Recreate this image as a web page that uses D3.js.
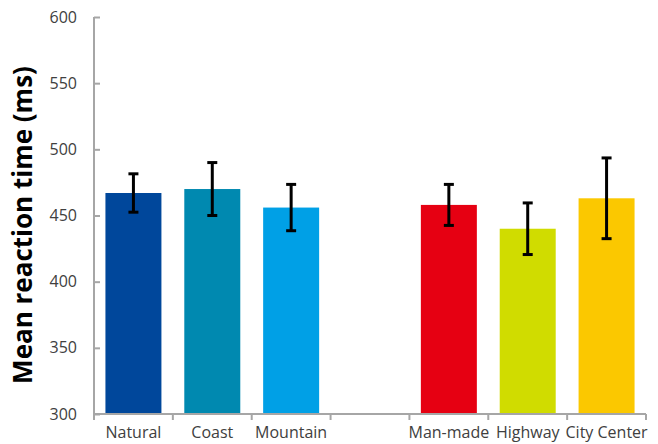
<!DOCTYPE html>
<html>
<head>
<meta charset="utf-8">
<script src="https://cdn.jsdelivr.net/npm/d3@7"></script>
<style>
  body { margin: 0; background: #fff; }
  svg { display: block; }
</style>
</head>
<body>
<svg id="chart" width="658" height="444"></svg>
<script>
// categories (the empty slot separates natural and man-made scenes)
var categories = ['Natural', 'Coast', 'Mountain', 'gap', 'Man-made', 'Highway', 'City Center'];
var tickLabels = ['Natural', 'Coast', 'Mountain', '', 'Man-made', 'Highway', 'City Center'];
var meanRT = [467, 470, 456, null, 458, 440, 463];
var errRT = [14.5, 20, 17.5, null, 15.5, 19.5, 30.5];
var barColors = ['#00479b', '#0089b0', '#00a0e6', null, '#e60012', '#d0dc00', '#fbc800'];
var yTicks = [300, 350, 400, 450, 500, 550, 600];

var svg = d3.select('#chart');
var plotLeft = 94, plotRight = 646, plotTop = 17, plotBottom = 414;

var x = d3.scaleBand()
	.domain(categories)
	.range([plotLeft, plotRight])
	.paddingInner(0.29)
	.paddingOuter(0.145);

var y = d3.scaleLinear()
	.domain([300, 600])
	.range([plotBottom, plotTop]);

var rows = categories.map((c, i) => ({cat: c, val: meanRT[i], err: errRT[i], color: barColors[i]}))
	.filter(d => d.val != null);

// bars
svg.selectAll('rect.bar')
	.data(rows)
	.enter()
	.append('rect')
	.attr('class', 'bar')
	.attr('x', d => x(d.cat))
	.attr('width', x.bandwidth())
	.attr('y', d => y(d.val))
	.attr('height', d => y(300) - y(d.val))
	.attr('fill', d => d.color);

// error bars
var eb = svg.selectAll('g.err')
	.data(rows)
	.enter()
	.append('g')
	.attr('class', 'err')
	.attr('stroke', 'black')
	.attr('stroke-width', 3);

eb.append('line')
	.attr('x1', d => x(d.cat) + x.bandwidth() / 2)
	.attr('x2', d => x(d.cat) + x.bandwidth() / 2)
	.attr('y1', d => y(d.val + d.err))
	.attr('y2', d => y(d.val - d.err));

[1, -1].forEach(function(s) {
	eb.append('line')
		.attr('x1', d => x(d.cat) + x.bandwidth() / 2 - 5)
		.attr('x2', d => x(d.cat) + x.bandwidth() / 2 + 5)
		.attr('y1', d => y(d.val + s * d.err))
		.attr('y2', d => y(d.val + s * d.err));
});

// y axis, ticks point inward
var yAxis = svg.append('g')
	.attr('transform', 'translate(' + plotLeft + ',0)')
	.call(d3.axisLeft(y).tickValues(yTicks).tickSizeInner(-6).tickSizeOuter(0).tickPadding(17));

// x axis, ticks at band boundaries
var xAxis = svg.append('g')
	.attr('transform', 'translate(0,' + plotBottom + ')')
	.call(d3.axisBottom(x).tickSize(0).tickPadding(13).tickFormat((d, i) => tickLabels[i]));

var bounds = categories.map(c => x(c) - x.step() * x.paddingInner() / 2).concat([plotRight]);
bounds[0] = plotLeft;
xAxis.selectAll('line.bound')
	.data(bounds)
	.enter()
	.append('line')
	.attr('class', 'bound')
	.attr('x1', d => d)
	.attr('x2', d => d)
	.attr('y1', 0)
	.attr('y2', 6);

[yAxis, xAxis].forEach(function(a) {
	a.select('.domain').attr('stroke', '#a6a6a6').attr('stroke-width', 2);
	a.selectAll('line').attr('stroke', '#a6a6a6').attr('stroke-width', 2);
	a.selectAll('text')
		.attr('font-family', 'Open Sans')
		.attr('font-size', 16)
		.attr('fill', '#404040');
});
xAxis.select('.domain').attr('d', 'M' + plotLeft + ',0H' + plotRight);
yAxis.select('.domain').attr('d', 'M0,' + plotTop + 'V' + plotBottom);

// y label
svg.append('text')
	.attr('transform', 'translate(32,225) rotate(-90)')
	.attr('text-anchor', 'middle')
	.attr('font-family', 'Open Sans')
	.attr('font-weight', 'bold')
	.attr('font-size', 26)
	.attr('fill', 'black')
	.text('Mean reaction time (ms)');
</script>
</body>
</html>
